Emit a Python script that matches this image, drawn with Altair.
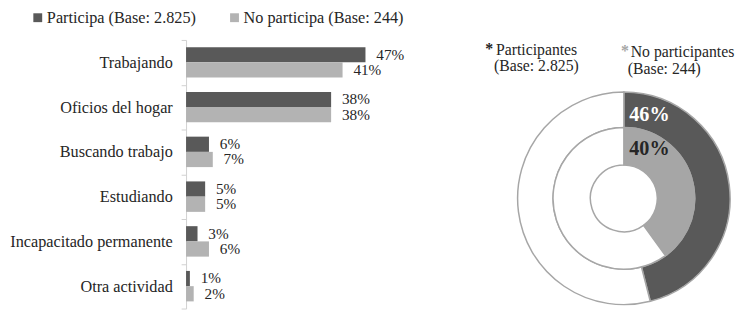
import altair as alt
import pandas as pd

categories = ["Trabajando", "Oficios del hogar", "Buscando trabajo", "Estudiando",
              "Incapacitado permanente", "Otra actividad"]
participa = [47, 38, 6, 5, 3, 1]
no_participa = [41, 38, 7, 5, 6, 2]
series = ["Participa (Base: 2.825)", "No participa (Base: 244)"]

donut_titles = ["Participantes", "No participantes"]
donut_bases = ["(Base: 2.825)", "(Base: 244)"]
donut_values = [46, 40]

DARK = "#595959"
LIGHT = "#b3b3b3"
LIGHT_D = "#a6a6a6"
TXT = "#262626"
FONT = "Liberation Serif"

rows = []
for c, a, b in zip(categories, participa, no_participa):
    rows.append({"cat": c, "serie": series[0], "val": a, "lbl": f"{a}%"})
    rows.append({"cat": c, "serie": series[1], "val": b, "lbl": f"{b}%"})
bars_df = pd.DataFrame(rows)

y = alt.Y("cat:N", sort=categories,
          scale=alt.Scale(paddingInner=0, paddingOuter=0),
          axis=alt.Axis(title=None, tickBand="extent", labelFont=FONT, labelFontSize=16.5,
                        labelColor=TXT, domainColor="#d0d0d0", tickColor="#d0d0d0",
                        tickSize=5, labelPadding=9, labelLimit=300, grid=False))
yoff = alt.YOffset("serie:N", sort=series, scale=alt.Scale(paddingInner=0, paddingOuter=0.47))
x = alt.X("val:Q", scale=alt.Scale(domain=[0, 100]), axis=None, stack=None)

base = alt.Chart(bars_df).encode(y=y, yOffset=yoff, x=x)
bars = base.mark_bar().encode(
    color=alt.Color("serie:N", sort=series,
                    scale=alt.Scale(domain=series, range=[DARK, LIGHT]),
                    legend=alt.Legend(title=None, orient="none", legendX=-159, legendY=-31,
                                      direction="horizontal", symbolType="square",
                                      symbolSize=81, symbolStrokeWidth=0, labelFont=FONT,
                                      labelFontSize=16.5, labelColor=TXT, labelOffset=1,
                                      columnPadding=30, labelLimit=400, symbolOpacity=1))
)
labels = base.mark_text(align="left", baseline="middle", dx=11, font=FONT,
                        fontSize=15.5, color=TXT).encode(text="lbl:N")

CX, CY = 445, 161


def ring(value, color, r1, r2):
    df = pd.DataFrame({"val": [value, 100 - value], "fill": [color, "white"], "ord": [0, 1]})
    return alt.Chart(df).mark_arc(radius=r1, radius2=r2, stroke="#a6a6a6",
                                  strokeWidth=1.5).encode(
        theta=alt.Theta("val:Q", stack=True),
        order=alt.Order("ord:O"),
        color=alt.Color("fill:N", scale=None),
        x=alt.value(CX), y=alt.value(CY),
    )


outer = ring(donut_values[0], DARK, 108, 72)
inner = ring(donut_values[1], LIGHT_D, 72, 34)


def text(txt, xv, yv, **kw):
    props = dict(font=FONT, fontSize=16, color=TXT, align="left", baseline="alphabetic")
    props.update(kw)
    return alt.Chart(pd.DataFrame({"t": [txt]})).mark_text(**props).encode(
        x=alt.value(xv), y=alt.value(yv), text="t:N")


pct_outer = text(f"{donut_values[0]}%", 471, 82, fontSize=20.5, fontWeight="bold",
                 color="white", align="center")
pct_inner = text(f"{donut_values[1]}%", 471, 117, fontSize=20.5, fontWeight="bold",
                 color=TXT, align="center")

titles = [
    text("*", 304, 14, fontWeight="bold", color="#222222"),
    text(donut_titles[0], 315, 15),
    text(donut_bases[0], 313, 32),
    text("*", 442, 16, fontWeight="bold", color=LIGHT_D),
    text(donut_titles[1], 452, 17),
    text(donut_bases[1], 449, 35),
]

chart = alt.layer(bars, labels, outer, inner, pct_outer, pct_inner, *titles).resolve_scale(
    color="independent", theta="independent"
).properties(
    width=388, height=273,
    padding={"left": 181, "top": 30, "right": 171, "bottom": 0},
    autosize="none",
).configure_view(stroke=None)

chart.save("out.html", embed_options={"renderer": "svg", "actions": False})
